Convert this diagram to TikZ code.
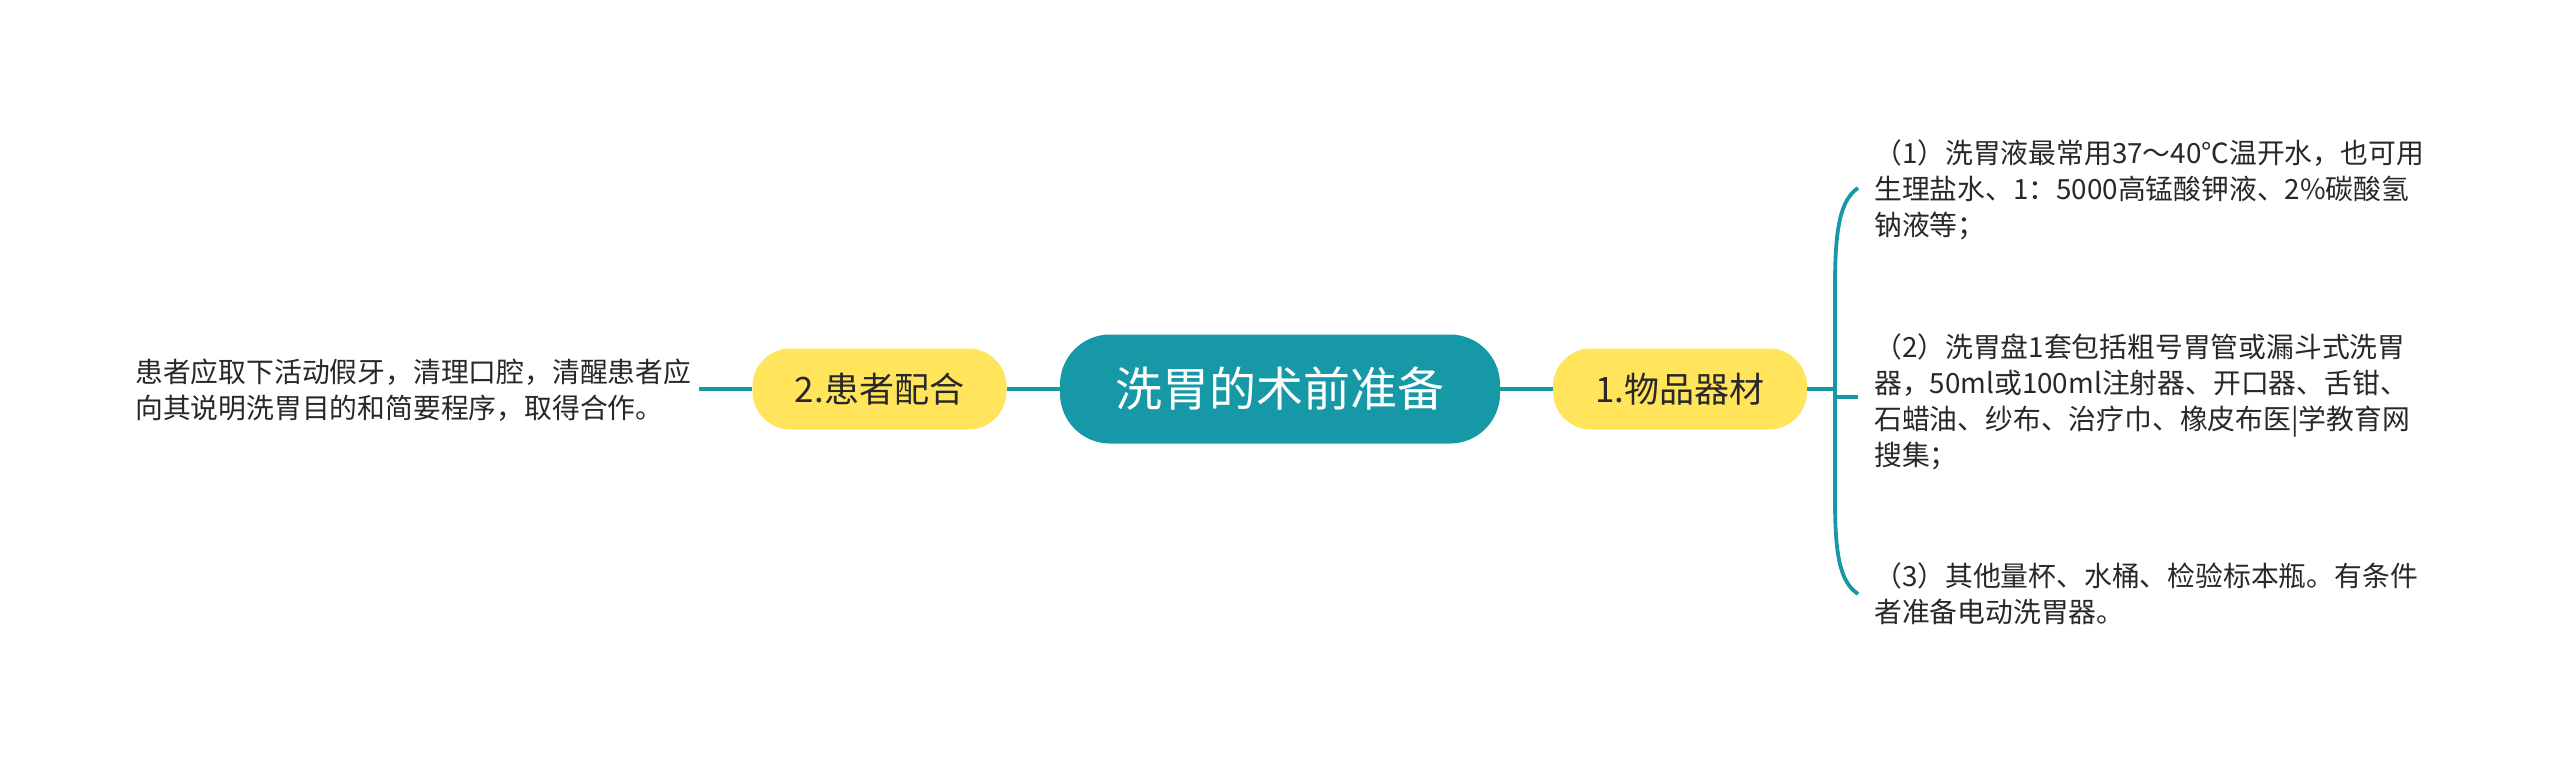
\documentclass[tikz,border=0pt]{standalone}
\usepackage{fontspec}
\setmainfont{Noto Sans CJK SC}
\definecolor{teal1}{RGB}{22,152,166}
\definecolor{yel}{RGB}{255,228,92}
\definecolor{txt}{RGB}{40,40,40}
\begin{document}
\begin{tikzpicture}[x=1pt,y=-1pt,
  conn/.style={draw=teal1,line width=3.8pt},
  rootbox/.style={fill=teal1,text=white,rounded corners=50pt,minimum width=440pt,minimum height=109pt,inner sep=0pt,font=\fontsize{47}{56}\selectfont},
  mainbox/.style={fill=yel,text=txt,rounded corners=38pt,minimum width=254pt,minimum height=81pt,inner sep=0pt,font=\fontsize{35}{42}\selectfont},
  leaf/.style={text=txt,align=left,inner sep=0pt,font=\fontsize{27.8}{36}\selectfont}]
\useasboundingbox[fill=white] (0,0) rectangle (2560,760);
\node[rootbox] (root) at (1280,389) {洗胃的术前准备};
\node[mainbox] (n1) at (1680,389) {1.物品器材};
\node[mainbox] (n2) at (879.5,389) {2.患者配合};
\node[leaf,anchor=west] (l1) at (135,390) {患者应取下活动假牙，清理口腔，清醒患者应\\向其说明洗胃目的和简要程序，取得合作。};
\node[leaf,anchor=west] (c1) at (1874,190) {（1）洗胃液最常用37～40℃温开水，也可用\\生理盐水、1：5000高锰酸钾液、2\%碳酸氢\\钠液等；};
\node[leaf,anchor=west] (c2) at (1874,402) {（2）洗胃盘1套包括粗号胃管或漏斗式洗胃\\器，50ml或100ml注射器、开口器、舌钳、\\石蜡油、纱布、治疗巾、橡皮布医|学教育网\\搜集；};
\node[leaf,anchor=west] (c3) at (1874,594) {（3）其他量杯、水桶、检验标本瓶。有条件\\者准备电动洗胃器。};
\coordinate (lend) at (699,389);
\coordinate (bj) at (1835,389);
\coordinate (b1) at (1858,188);
\coordinate (b2) at (1858,397);
\coordinate (b3) at (1858,594);
\draw[conn] (root.east) -- (n1.west);
\draw[conn] (root.west) -- (n2.east);
\draw[conn] (n2.west) -- (lend);
\draw[conn] (n1.east) -- (bj);
\draw[conn] (b1) .. controls (1840,200) and (1835,230) .. (1835,285) -- (1835,500) .. controls (1835,555) and (1840,582) .. (b3);
\draw[conn] (1835,397) -- (b2);
\end{tikzpicture}
\end{document}
